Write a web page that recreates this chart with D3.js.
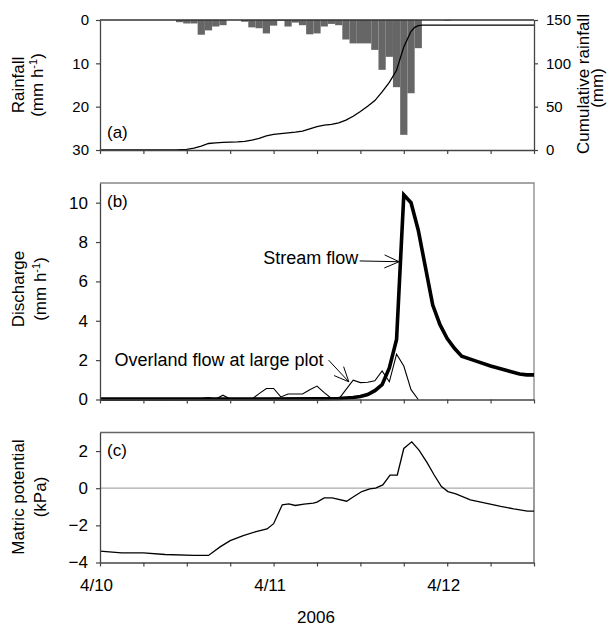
<!DOCTYPE html>
<html>
<head>
<meta charset="utf-8">
<script src="https://cdn.jsdelivr.net/npm/d3@7"></script>
<style>
body { margin: 0; background: #fff; }
svg { font-family: "Liberation Sans", Arial, sans-serif; }
</style>
</head>
<body>
<div id="chart"></div>
<script>
// DATA - time is hours after 4/10 0:00 (2006)
const rainHour = [11, 12, 13, 14, 15, 16, 17, 18, 19, 20, 21, 22, 23, 24, 25, 26, 27, 28, 29, 30,
                  31, 32, 33, 34, 35, 36, 37, 38, 39, 40, 41, 42, 43, 44, 48];
const rainRate = [0.5, 0.8, 0.8, 3.4, 2.4, 1.5, 1.2, 0, 0, 0.4, 1.7, 1.9, 3.1, 1.3, 0.2, 1.5, 0.6, 1.2, 3.3, 3.1,
                  1.5, 0.9, 1.2, 4.5, 5.4, 5.4, 5.4, 6.9, 11.5, 8.5, 15.5, 26.5, 16.9, 6.5, 0.15];

const cumHour = [0, 10.5, 12, 13, 14, 15, 16, 17, 19, 20, 21, 22, 23, 24, 25, 26, 27, 28, 29, 30,
                 31, 32, 33, 34, 35, 36, 37, 38, 39, 40, 41, 42, 43, 43.5, 44, 44.5, 60];
const cumRain = [0, 0, 0.8, 2.2, 4.5, 7.5, 8.3, 8.9, 9.4, 9.9, 11.3, 13.5, 16.2, 18, 19, 19.8, 20.6, 21.7, 24.5, 27,
                 28.6, 29.6, 31.3, 34.5, 39, 44.5, 50.5, 57, 67, 78, 92, 119, 137, 141.5, 143.5, 144.2, 144.2];

const streamHour = [0, 30, 33, 35, 36, 37, 38, 39, 40, 41, 42, 43, 44, 45, 46, 47, 48, 49, 50, 52, 54, 56, 58, 59, 60];
const streamQ = [0.02, 0.03, 0.05, 0.1, 0.15, 0.25, 0.45, 0.75, 1.6, 3.05, 10.4, 10.0, 8.6, 6.7, 4.8, 3.8, 3.1, 2.6, 2.2,
                 1.95, 1.7, 1.5, 1.3, 1.25, 1.25];

const overlandHour = [0, 13, 14, 15, 16, 17, 18, 21, 22, 23, 24, 25, 26, 28, 29, 30, 31, 32, 33, 34, 35, 36, 37, 38,
                      39, 40, 41, 42, 43, 44];
const overlandQ = [0, 0, 0.05, 0.1, 0.02, 0.22, 0.02, 0.02, 0.3, 0.56, 0.56, 0.13, 0.28, 0.28, 0.5, 0.68, 0.35, 0.05,
                   0.02, 0.5, 0.98, 0.86, 0.88, 0.95, 1.45, 0.9, 2.3, 1.7, 0.5, 0];

const matricHour = [0, 3, 6, 9, 13, 15, 16.6, 18, 19.8, 21.7, 23.1, 24, 25.2, 26.1, 27, 28.2, 29.5, 30, 31, 32.1,
                    34.1, 35.1, 36.2, 37.3, 38.1, 39.1, 40.1, 41.1, 42, 43.1, 44.1, 45.2, 46.2, 47.2, 48.1, 49.2,
                    51.2, 53.3, 55.4, 57.2, 59.1, 60];
const matricKPa = [-3.39, -3.48, -3.48, -3.57, -3.62, -3.62, -3.16, -2.82, -2.55, -2.32, -2.19, -1.91, -0.89, -0.84,
                   -0.93, -0.86, -0.8, -0.75, -0.52, -0.52, -0.7, -0.45, -0.18, -0.04, 0.0, 0.18, 0.71, 0.71, 2.14,
                   2.5, 2.05, 1.39, 0.71, 0.09, -0.18, -0.3, -0.63, -0.8, -0.98, -1.11, -1.23, -1.23];

const hourTicks = [0, 6, 12, 18, 24, 30, 36, 42, 48, 54, 60];
const dateTicks = [0, 24, 48];
const dateLabels = ["4/10", "4/11", "4/12"];

// CONSTANTS
const width = 613, height = 628;
const axisColor = "#444";

// SCALES
const x = d3.scaleLinear().domain([0, 60]).range([100, 534]);
const yRain = d3.scaleLinear().domain([0, 30]).range([20, 150]);
const yCum = d3.scaleLinear().domain([0, 150]).range([150, 20]);
const yQ = d3.scaleLinear().domain([0, 11]).range([399.5, 183]);
const yM = d3.scaleLinear().domain([-4, 3]).range([562.5, 432.5]);

// SVG
const svg = d3.select("#chart")
    .append("svg")
    .attr("width", width)
    .attr("height", height);

function styleAxis(g, fontSize) {
    g.select(".domain").attr("stroke", axisColor).attr("stroke-width", 1.3);
    g.selectAll(".tick line").attr("stroke", axisColor).attr("stroke-width", 1.2);
    g.selectAll(".tick text").attr("fill", "#000").style("font-size", fontSize + "px");
}

function xAxisAt(yPos, withLabels) {
    const ax = d3.axisBottom(x)
        .tickValues(hourTicks)
        .tickSize(4)
        .tickSizeOuter(0)
        .tickPadding(12)
        .tickFormat(d => {
            const i = dateTicks.indexOf(d);
            return withLabels && i >= 0 ? dateLabels[i] : "";
        });
    const g = svg.append("g")
        .attr("transform", `translate(0, ${yPos})`)
        .call(ax);
    styleAxis(g, 17);
    g.selectAll(".tick text").attr("dx", -4);
    return g;
}

function yAxisLeft(scale, values, fontSize, pad) {
    const g = svg.append("g")
        .attr("transform", `translate(${x.range()[0]}, 0)`)
        .call(d3.axisLeft(scale).tickValues(values).tickFormat(d3.format("d"))
            .tickSize(4).tickSizeOuter(0).tickPadding(pad));
    styleAxis(g, fontSize);
    return g;
}

function vTitle(xPos, yPos, parts, size) {
    const t = svg.append("text")
        .attr("transform", `translate(${xPos}, ${yPos}) rotate(-90)`)
        .attr("text-anchor", "middle")
        .style("font-size", size + "px");
    parts.forEach(p => {
        if (p.sup) {
            t.append("tspan").attr("baseline-shift", "super").style("font-size", (size * 0.65) + "px").text(p.text);
        } else {
            t.append("tspan").text(p.text);
        }
    });
}

function frame(yScale, color) {
    const [y0, y1] = yScale.range();
    svg.append("path")
        .attr("d", `M${x.range()[0]},${y1}H${x.range()[1]}V${y0}`)
        .attr("fill", "none")
        .attr("stroke", color)
        .attr("stroke-width", 1.3);
}

function arrow(from, to) {
    const [x1, y1] = from, [x2, y2] = to;
    const a = Math.atan2(y2 - y1, x2 - x1);
    const len = 16, spread = 0.42;
    const h1 = [x2 - len * Math.cos(a - spread), y2 - len * Math.sin(a - spread)];
    const h2 = [x2 - len * Math.cos(a + spread), y2 - len * Math.sin(a + spread)];
    svg.append("path")
        .attr("d", `M${x1},${y1}L${x2},${y2}M${h1[0]},${h1[1]}L${x2},${y2}L${h2[0]},${h2[1]}`)
        .attr("fill", "none")
        .attr("stroke", "#000")
        .attr("stroke-width", 1);
}

// PANEL (a) - RAINFALL BARS + CUMULATIVE
const rain = rainHour.map((h, i) => ({h: h, v: rainRate[i]}));
svg.append("g")
    .selectAll("rect")
    .data(rain)
    .join("rect")
    .attr("x", d => x(d.h - 0.5))
    .attr("width", d => x(d.h + 0.5) - x(d.h - 0.5))
    .attr("y", yRain(0))
    .attr("height", d => yRain(d.v) - yRain(0))
    .attr("fill", "#666");

const cum = cumHour.map((h, i) => [h, cumRain[i]]);
svg.append("path")
    .datum(cum)
    .attr("d", d3.line().x(d => x(d[0])).y(d => yCum(d[1])))
    .attr("fill", "none")
    .attr("stroke", "#000")
    .attr("stroke-width", 1.3);

// top line of panel (a)
svg.append("line")
    .attr("x1", x.range()[0]).attr("x2", x.range()[1])
    .attr("y1", yRain(0)).attr("y2", yRain(0))
    .attr("stroke", "#333").attr("stroke-width", 1.6);

yAxisLeft(yRain, [0, 10, 20, 30], 15, 7);
const rightAxis = svg.append("g")
    .attr("transform", `translate(${x.range()[1]}, 0)`)
    .call(d3.axisRight(yCum).tickValues([0, 50, 100, 150]).tickSize(4).tickSizeOuter(0).tickPadding(8));
styleAxis(rightAxis, 15);
xAxisAt(yRain(30), false);

vTitle(24, 85, [{text: "Rainfall"}], 17);
vTitle(43, 85, [{text: "(mm h"}, {text: "-1", sup: true}, {text: ")"}], 17);
vTitle(589, 84, [{text: "Cumulative rainfall"}], 17);
vTitle(603, 88, [{text: "(mm)"}], 17);

svg.append("text").attr("x", 107).attr("y", 138).style("font-size", "17px").text("(a)");

// PANEL (b) - DISCHARGE
frame(yQ, "#888");

const overland = overlandHour.map((h, i) => [h, overlandQ[i]]);
svg.append("path")
    .datum(overland)
    .attr("d", d3.line().x(d => x(d[0])).y(d => yQ(d[1])))
    .attr("fill", "none")
    .attr("stroke", "#000")
    .attr("stroke-width", 1.1);

const stream = streamHour.map((h, i) => [h, streamQ[i]]);
svg.append("path")
    .datum(stream)
    .attr("d", d3.line().x(d => x(d[0])).y(d => yQ(d[1])))
    .attr("fill", "none")
    .attr("stroke", "#000")
    .attr("stroke-width", 3.6)
    .attr("stroke-linejoin", "miter");

yAxisLeft(yQ, [0, 2, 4, 6, 8, 10], 17, 8);
xAxisAt(yQ(0), false);

vTitle(24, 289, [{text: "Discharge"}], 17);
vTitle(46, 289, [{text: "(mm h"}, {text: "-1", sup: true}, {text: ")"}], 17);
svg.append("text").attr("x", 107).attr("y", 207).style("font-size", "17px").text("(b)");

// annotations
svg.append("text")
    .attr("x", x(35.7)).attr("y", yQ(6.88))
    .attr("text-anchor", "end")
    .style("font-size", "18px")
    .text("Stream flow");
arrow([x(35.9), yQ(7.04)], [x(41.35), yQ(7.0)]);

svg.append("text")
    .attr("x", x(2.0)).attr("y", yQ(1.69))
    .style("font-size", "18px")
    .text("Overland flow at large plot");
arrow([x(31.6), yQ(2.0)], [x(34.4), yQ(0.9)]);

// PANEL (c) - MATRIC POTENTIAL
frame(yM, "#666");
svg.append("line")
    .attr("x1", x.range()[0]).attr("x2", x.range()[1])
    .attr("y1", yM(0)).attr("y2", yM(0))
    .attr("stroke", "#aaa").attr("stroke-width", 1.2);

const matric = matricHour.map((h, i) => [h, matricKPa[i]]);
svg.append("path")
    .datum(matric)
    .attr("d", d3.line().x(d => x(d[0])).y(d => yM(d[1])))
    .attr("fill", "none")
    .attr("stroke", "#000")
    .attr("stroke-width", 1.3);

yAxisLeft(yM, [-4, -2, 0, 2], 17, 8);
xAxisAt(yM(-4), true);

vTitle(24, 497, [{text: "Matric potential"}], 17);
vTitle(46, 497, [{text: "(kPa)"}], 17);
svg.append("text").attr("x", 107).attr("y", 456).style("font-size", "17px").text("(c)");

// X TITLE
svg.append("text")
    .attr("x", 316).attr("y", 623)
    .attr("text-anchor", "middle")
    .style("font-size", "17px")
    .text("2006");
</script>
</body>
</html>
